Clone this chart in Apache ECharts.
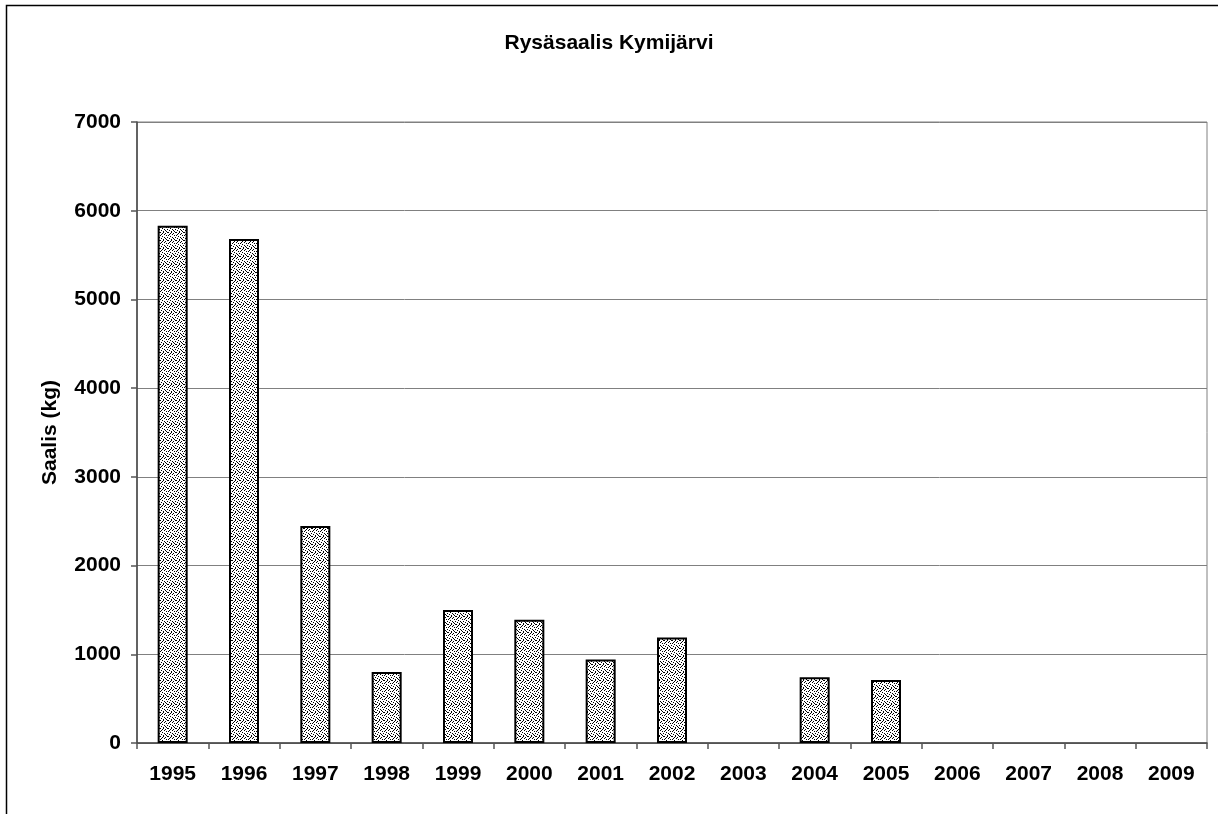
<!DOCTYPE html>
<html>
<head>
<meta charset="utf-8">
<script src="https://cdn.jsdelivr.net/npm/echarts@6/dist/echarts.min.js"></script>
<style>
html,body{margin:0;padding:0;background:#fff;}
#chart{width:1218px;height:814px;}
</style>
</head>
<body>
<div id="chart"></div>
<script>
const titleText = 'Rysäsaalis Kymijärvi';
const yAxisName = 'Saalis (kg)';
const categories = ['1995','1996','1997','1998','1999','2000','2001','2002','2003','2004','2005','2006','2007','2008','2009'];
const values = [5830, 5680, 2445, 800, 1500, 1390, 940, 1190, null, 740, 710, null, null, null, null];
const yMin = 0, yMax = 7000, yStep = 1000;

// stipple fill pattern
const patRows = [
  '10010001',
  '00100100',
  '01001000',
  '10000010',
  '00100000',
  '00001001',
  '01000100',
  '00010010'
];
const pc = document.createElement('canvas');
pc.width = 8; pc.height = 8;
const pctx = pc.getContext('2d');
pctx.fillStyle = '#ffffff';
pctx.fillRect(0,0,8,8);
pctx.fillStyle = '#000000';
patRows.forEach((r, y) => { for (let x = 0; x < r.length; x++) if (r[x] === '1') pctx.fillRect(x, y, 1, 1); });

const font = '"Liberation Sans", Arial, sans-serif';
const chart = echarts.init(document.getElementById('chart'));
chart.setOption({
  animation: false,
  backgroundColor: '#ffffff',
  title: {
    text: titleText, left: 'center', top: 28,
    textStyle: { fontFamily: font, fontWeight: 'bold', fontSize: 21, color: '#000' }
  },
  graphic: [{
    type: 'rect', silent: true, z: -1,
    shape: { x: 6.5, y: 5.5, width: 1240, height: 900 },
    style: { fill: 'none', stroke: '#000', lineWidth: 1.5 }
  }],
  grid: { left: 137, top: 122, right: 11, bottom: 71, show: true, borderColor: '#808080', borderWidth: 1, backgroundColor: 'transparent' },
  xAxis: {
    type: 'category', data: categories, boundaryGap: true,
    axisLine: { show: true, lineStyle: { color: '#444', width: 1.5 } },
    axisTick: { show: true, alignWithLabel: false, length: 6, lineStyle: { color: '#555', width: 1.5 } },
    axisLabel: { fontFamily: font, fontWeight: 'bold', fontSize: 21, color: '#000', margin: 21, interval: 0 },
    splitLine: { show: false }
  },
  yAxis: {
    type: 'value', min: yMin, max: yMax, interval: yStep,
    name: yAxisName, nameLocation: 'middle', nameGap: 76, nameRotate: 90,
    nameTextStyle: { fontFamily: font, fontWeight: 'bold', fontSize: 21, color: '#000' },
    axisLine: { show: true, lineStyle: { color: '#444', width: 1.5 } },
    axisTick: { show: true, length: 6, lineStyle: { color: '#555', width: 1.5 } },
    axisLabel: { fontFamily: font, fontWeight: 'bold', fontSize: 21, color: '#000', margin: 16, formatter: v => String(v) },
    splitLine: { show: true, lineStyle: { color: '#808080', width: 1 } }
  },
  series: [{
    type: 'bar', data: values, barWidth: 30,
    itemStyle: { color: { image: pc, repeat: 'repeat' }, borderColor: '#000', borderWidth: 2 }
  }]
});
</script>
</body>
</html>
